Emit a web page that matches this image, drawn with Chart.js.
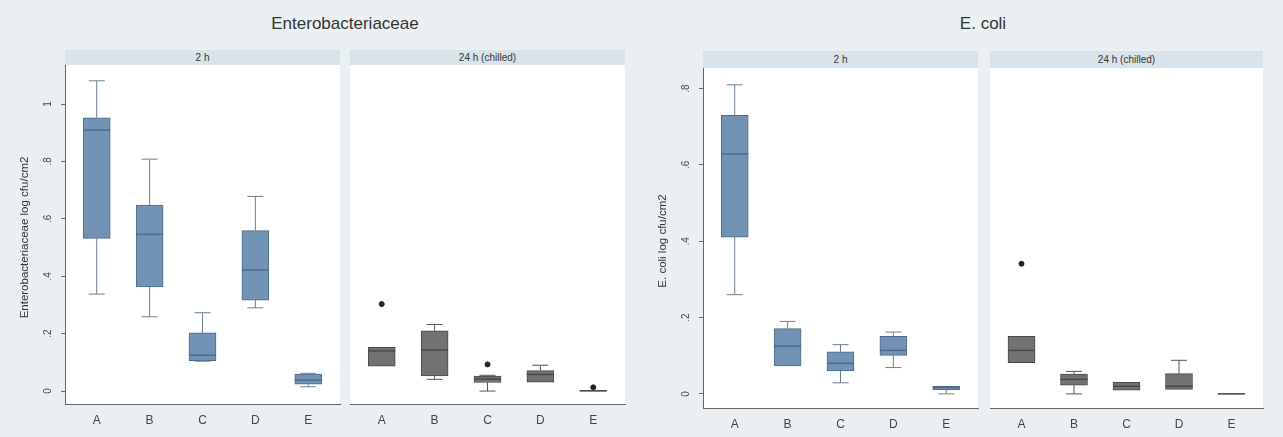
<!DOCTYPE html>
<html>
<head>
<meta charset="utf-8">
<script src="https://cdn.jsdelivr.net/npm/chart.js@4.4.1/dist/chart.umd.min.js"></script>
<style>
  body { margin: 0; width: 1283px; height: 437px; overflow: hidden; background: #eaf0f2; font-family: "Liberation Sans", Arial, sans-serif; position: relative; }
  .panel { position: absolute; background: #fff; }
  .strip { position: absolute; background: #d9e4ea; color: #333; font-size: 10px; text-align: center; }
  .title { position: absolute; top: 14px; font-size: 17px; color: #333; text-align: center; }
  canvas { position: absolute; }
</style>
</head>
<body>
<div class="title" style="left:65px;width:560px;">Enterobacteriaceae</div>
<div class="title" style="left:703px;width:560px;">E. coli</div>

<div class="strip" style="left:65px;top:50px;width:275px;height:15px;line-height:15px;">2 h</div>
<div class="strip" style="left:350px;top:50px;width:275px;height:15px;line-height:15px;">24 h (chilled)</div>
<div class="strip" style="left:703px;top:51px;width:275px;height:17px;line-height:17px;">2 h</div>
<div class="strip" style="left:990px;top:51px;width:273px;height:17px;line-height:17px;">24 h (chilled)</div>

<div class="panel" style="left:65px;top:65px;width:275px;height:339px;"></div>
<div class="panel" style="left:350px;top:65px;width:275px;height:339px;"></div>
<div class="panel" style="left:703px;top:68px;width:275px;height:340px;"></div>
<div class="panel" style="left:990px;top:68px;width:273px;height:340px;"></div>

<canvas id="c1" width="345" height="382" style="left:0px;top:55px;"></canvas>
<canvas id="c2" width="285" height="382" style="left:345px;top:55px;"></canvas>
<canvas id="c3" width="343" height="379" style="left:640px;top:58px;"></canvas>
<canvas id="c4" width="283" height="379" style="left:985px;top:58px;"></canvas>

<script>
// categories and tick labels
const groups = ['A', 'B', 'C', 'D', 'E'];
const enteroTicks = [0, 0.2, 0.4, 0.6, 0.8, 1];
const enteroTickLabels = ['0', '.2', '.4', '.6', '.8', '1'];
const ecoliTicks = [0, 0.2, 0.4, 0.6, 0.8];
const ecoliTickLabels = ['0', '.2', '.4', '.6', '.8'];

// Enterobacteriaceae, 2 h
const ent2Min = [0.338, 0.259, 0.104, 0.290, 0.015];
const ent2Q1  = [0.532, 0.363, 0.106, 0.317, 0.024];
const ent2Med = [0.909, 0.546, 0.125, 0.422, 0.038];
const ent2Q3  = [0.952, 0.648, 0.203, 0.559, 0.059];
const ent2Max = [1.081, 0.808, 0.273, 0.678, 0.062];
const ent2Out = [];

// Enterobacteriaceae, 24 h (chilled)
const ent24Min = [0.087, 0.041, 0.000, 0.031, 0.000];
const ent24Q1  = [0.087, 0.053, 0.030, 0.031, 0.000];
const ent24Med = [0.140, 0.143, 0.042, 0.058, 0.001];
const ent24Q3  = [0.152, 0.210, 0.052, 0.071, 0.002];
const ent24Max = [0.152, 0.232, 0.055, 0.090, 0.002];
const ent24Out = [[1, 0.303], [3, 0.093], [5, 0.013]];

// E. coli, 2 h
const eco2Min = [0.260, 0.072, 0.029, 0.069, 0.000];
const eco2Q1  = [0.411, 0.073, 0.060, 0.101, 0.011];
const eco2Med = [0.629, 0.125, 0.080, 0.114, 0.017];
const eco2Q3  = [0.730, 0.171, 0.110, 0.151, 0.020];
const eco2Max = [0.810, 0.190, 0.129, 0.162, 0.020];
const eco2Out = [];

// E. coli, 24 h (chilled)
const eco24Min = [0.082, 0.000, 0.010, 0.012, 0.000];
const eco24Q1  = [0.082, 0.023, 0.010, 0.012, 0.000];
const eco24Med = [0.114, 0.038, 0.020, 0.020, 0.000];
const eco24Q3  = [0.151, 0.052, 0.030, 0.053, 0.001];
const eco24Max = [0.151, 0.059, 0.030, 0.088, 0.001];
const eco24Out = [[1, 0.341]];

const blue = { fill: '#7393b5', line: '#4e6a8a', whisk: '#6d7f92' };
const gray = { fill: '#727272', line: '#484848', whisk: '#555555' };

// whiskers, caps and medians drawn through the chart's scales
const boxExtras = {
  id: 'boxExtras',
  afterDatasetsDraw(chart, args, opts) {
    const ctx = chart.ctx;
    const xs = chart.scales.x, ys = chart.scales.y;
    const half = 13.5, cap = 8;
    ctx.save();
    opts.min.forEach((v, i) => {
      const x = xs.getPixelForValue(i + 1);
      const yMin = ys.getPixelForValue(opts.min[i]);
      const yQ1 = ys.getPixelForValue(opts.q1[i]);
      const yMed = ys.getPixelForValue(opts.med[i]);
      const yQ3 = ys.getPixelForValue(opts.q3[i]);
      const yMax = ys.getPixelForValue(opts.max[i]);
      ctx.strokeStyle = opts.colors.whisk;
      ctx.lineWidth = 1;
      ctx.beginPath();
      if (yMax < yQ3 - 0.5) {
        ctx.moveTo(x, yQ3); ctx.lineTo(x, yMax);
        ctx.moveTo(x - cap, yMax); ctx.lineTo(x + cap, yMax);
      }
      if (yMin > yQ1 + 0.5) {
        ctx.moveTo(x, yQ1); ctx.lineTo(x, yMin);
        ctx.moveTo(x - cap, yMin); ctx.lineTo(x + cap, yMin);
      }
      ctx.stroke();
      ctx.strokeStyle = opts.colors.line;
      ctx.lineWidth = 1.5;
      ctx.beginPath();
      ctx.moveTo(x - half, yMed); ctx.lineTo(x + half, yMed);
      ctx.stroke();
    });
    ctx.restore();
  }
};

// rotated y tick labels and axis title
const yLabels = {
  id: 'yLabels',
  afterDraw(chart, args, opts) {
    if (!opts.labels) return;
    const ctx = chart.ctx;
    const ys = chart.scales.y;
    const left = chart.chartArea.left;
    ctx.save();
    ctx.fillStyle = '#444';
    ctx.textAlign = 'center';
    ctx.textBaseline = 'middle';
    ctx.font = '10px "Liberation Sans", Arial, sans-serif';
    opts.ticks.forEach((v, i) => {
      ctx.save();
      ctx.translate(left - 17, ys.getPixelForValue(v));
      ctx.rotate(-Math.PI / 2);
      ctx.fillText(opts.labels[i], 0, 0);
      ctx.restore();
    });
    ctx.font = '11.5px "Liberation Sans", Arial, sans-serif';
    ctx.fillStyle = '#333';
    ctx.translate(left - 40, (chart.chartArea.top + chart.chartArea.bottom) / 2 + 3);
    ctx.rotate(-Math.PI / 2);
    ctx.fillText(opts.title, 0, 0);
    ctx.restore();
  }
};

function makePanel(id, s, colors, yr, ticks, tickLabels, yTitle, pad, xHeight) {
  const showY = !!yTitle;
  return new Chart(document.getElementById(id), {
    type: 'bar',
    data: {
      datasets: [{
        data: groups.map((g, i) => ({ x: i + 1, y: [s.q1[i], s.q3[i]] })),
        backgroundColor: colors.fill,
        borderColor: colors.line,
        borderWidth: 1,
        borderSkipped: false,
        barThickness: 27
      }, {
        type: 'scatter',
        data: s.out.map(p => ({ x: p[0], y: p[1] })),
        backgroundColor: '#222',
        borderColor: '#222',
        pointRadius: 2.5
      }]
    },
    options: {
      responsive: false,
      animation: false,
      devicePixelRatio: 1,
      layout: { padding: pad },
      plugins: {
        legend: { display: false },
        tooltip: { enabled: false },
        boxExtras: { min: s.min, q1: s.q1, med: s.med, q3: s.q3, max: s.max, colors: colors },
        yLabels: { ticks: showY ? ticks : null, labels: showY ? tickLabels : null, title: yTitle }
      },
      scales: {
        x: {
          type: 'linear',
          offset: false,
          min: 0.4,
          max: 5.6,
          afterBuildTicks: sc => { sc.ticks = groups.map((g, i) => ({ value: i + 1 })); },
          ticks: { callback: v => groups[v - 1], color: '#444', padding: 9, font: { size: 12, family: '"Liberation Sans", Arial, sans-serif' } },
          grid: { drawOnChartArea: false, drawTicks: false, offset: false },
          border: { color: '#666', width: 1 },
          afterFit: sc => { sc.height = xHeight; }
        },
        y: {
          display: showY,
          min: yr[0],
          max: yr[1],
          afterBuildTicks: sc => { sc.ticks = ticks.map(v => ({ value: v })); },
          ticks: { display: false },
          grid: { drawOnChartArea: false, drawTicks: true, tickLength: 4, color: '#666' },
          border: { color: '#666', width: 1 },
          afterFit: sc => { sc.width = showY ? pad.yWidth : 0; }
        }
      }
    },
    plugins: [boxExtras, yLabels]
  });
}

makePanel('c1', { min: ent2Min, q1: ent2Q1, med: ent2Med, q3: ent2Q3, max: ent2Max, out: ent2Out },
  blue, [-0.045, 1.136], enteroTicks, enteroTickLabels, 'Enterobacteriaceae log cfu/cm2',
  { top: 10, right: 5, left: 0, bottom: 0, yWidth: 65 }, 33);
makePanel('c2', { min: ent24Min, q1: ent24Q1, med: ent24Med, q3: ent24Q3, max: ent24Max, out: ent24Out },
  gray, [-0.045, 1.136], enteroTicks, enteroTickLabels, null,
  { top: 10, right: 5, left: 5, bottom: 0 }, 33);
makePanel('c3', { min: eco2Min, q1: eco2Q1, med: eco2Med, q3: eco2Q3, max: eco2Max, out: eco2Out },
  blue, [-0.037, 0.854], ecoliTicks, ecoliTickLabels, 'E. coli log cfu/cm2',
  { top: 10, right: 5, left: 0, bottom: 0, yWidth: 63 }, 29);
makePanel('c4', { min: eco24Min, q1: eco24Q1, med: eco24Med, q3: eco24Q3, max: eco24Max, out: eco24Out },
  gray, [-0.037, 0.854], ecoliTicks, ecoliTickLabels, null,
  { top: 10, right: 5, left: 5, bottom: 0 }, 29);
</script>
</body>
</html>
